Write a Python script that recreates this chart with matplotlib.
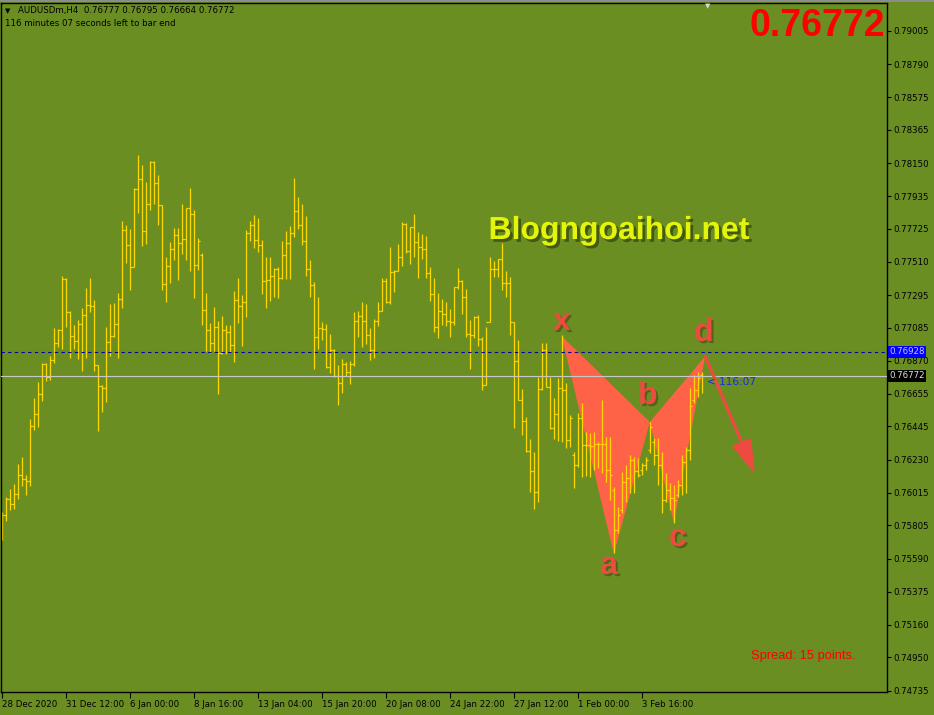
import numpy as np
import matplotlib.pyplot as plt
import matplotlib.patheffects as pe
from matplotlib.patches import Rectangle
from matplotlib.transforms import blended_transform_factory

# -----------------------------
# DATA (AUDUSDm H4, prices in points = 1e-5)
# -----------------------------
open_pts = [
    75775, 75872, 75976, 75943, 76008, 76131, 76105, 76092, 76448, 76526,
    76655, 76850, 76765, 76875, 76986, 77070, 77400, 77186, 77031, 76998,
    77108, 77167, 77231, 77225, 76843, 76707, 76694, 76992, 77031, 77108,
    77270, 77717, 77620, 77477, 77982, 78047, 77710, 77885, 78157, 78021,
    77879, 77367, 77484, 77594, 77685, 77633, 77659, 77859, 77821, 77490,
    77555, 77199, 77070, 76986, 77089, 76921, 77070, 77057, 76973, 77264,
    77225, 77251, 77698, 77749, 77652, 77620, 77387, 77393, 77419, 77464,
    77406, 77555, 77633, 77698, 77840, 77749, 77646, 77464, 77361, 77024,
    77083, 77076, 76830, 76940, 76772, 76727, 76850, 76798, 76850, 77128,
    77160, 77128, 77037, 76940, 77128, 77193, 77387, 77251, 77445, 77452,
    77542, 77756, 77581, 77736, 77639, 77607, 77594, 77439, 77303, 77089,
    77193, 77173, 77128, 77121, 77348, 77387, 77283, 77044, 77037, 77154,
    77011, 76714, 77121, 77464, 77464, 77529, 77374, 77374, 77121, 76869,
    76617, 76480, 76286, 76157, 76021, 76688, 76940, 76701, 76435, 76526,
    76694, 76681, 76358, 76260, 76196, 76500, 76326, 76326, 76319, 76332,
    76332, 76332, 76163, 76034, 75775, 75905, 76086, 76112, 76228, 76157,
    76163, 76196, 76293, 76345, 76261, 76196, 75969, 76034, 75982, 76002,
    76066, 76216, 76293, 76617, 76681, 76777,
]
high_pts = [
    75892, 75989, 76040, 76073, 76202, 76248, 76131, 76494, 76629, 76733,
    76856, 76856, 76901, 77083, 77076, 77419, 77406, 77193, 77102, 77134,
    77212, 77342, 77406, 77264, 76843, 76714, 77089, 77238, 77244, 77309,
    77775, 77749, 77723, 77989, 78202, 78138, 78028, 78164, 78164, 78073,
    77879, 77542, 77639, 77730, 77730, 77885, 77859, 77989, 77846, 77665,
    77568, 77309, 77115, 77219, 77128, 77160, 77102, 77102, 77322, 77406,
    77296, 77717, 77775, 77814, 77795, 77652, 77542, 77542, 77471, 77477,
    77646, 77710, 77743, 78053, 77931, 77885, 77808, 77523, 77380, 77283,
    77121, 77108, 77044, 76947, 76843, 76882, 76863, 76869, 77186, 77193,
    77251, 77238, 77083, 77141, 77251, 77406, 77406, 77607, 77458, 77626,
    77769, 77762, 77736, 77821, 77704, 77691, 77678, 77477, 77406, 77309,
    77270, 77251, 77206, 77348, 77471, 77393, 77335, 77134, 77160, 77167,
    77024, 77089, 77542, 77516, 77529, 77633, 77452, 77413, 77121, 77005,
    76688, 76506, 76364, 76280, 76765, 76986, 76986, 76765, 76629, 76759,
    77037, 76727, 76519, 76280, 76532, 76597, 76409, 76403, 76409, 76345,
    76617, 76377, 76377, 76053, 75924, 76150, 76196, 76261, 76248, 76241,
    76209, 76248, 76474, 76370, 76370, 76280, 76144, 76079, 76066, 76099,
    76261, 76312, 76694, 76778, 76798, 76795,
]
low_pts = [
    75710, 75833, 75905, 75911, 75976, 76060, 76002, 76060, 76422, 76442,
    76610, 76740, 76746, 76856, 76960, 76947, 77089, 76888, 76947, 76882,
    76804, 76888, 77186, 76804, 76416, 76539, 76604, 76901, 77024, 76888,
    77212, 77503, 77329, 77477, 77827, 77613, 77626, 77846, 77885, 77749,
    77329, 77251, 77374, 77523, 77393, 77562, 77523, 77452, 77277, 77458,
    77102, 76934, 76921, 76934, 76655, 76914, 76914, 76927, 76863, 77115,
    76966, 77154, 77646, 77600, 77575, 77303, 77212, 77257, 77283, 77277,
    77400, 77400, 77400, 77672, 77723, 77620, 77419, 77283, 76817, 76947,
    77005, 76824, 76791, 76765, 76584, 76662, 76772, 76720, 76837, 77024,
    76960, 76979, 76875, 76888, 77096, 77193, 77244, 77240, 77316, 77452,
    77484, 77568, 77497, 77542, 77406, 77529, 77406, 77257, 77057, 77018,
    77102, 77096, 77024, 77102, 77335, 77173, 77024, 76817, 77018, 76966,
    76681, 76714, 77121, 77413, 77413, 77329, 77283, 77037, 76435, 76617,
    76390, 76280, 76021, 75911, 75956, 76681, 76701, 76429, 76364, 76351,
    76345, 76306, 76312, 76047, 76183, 76118, 76125, 76118, 76163, 76176,
    76144, 76086, 75969, 75626, 75756, 75885, 75956, 76014, 76014, 76118,
    76131, 76163, 76274, 76196, 76066, 75885, 75956, 75905, 75820, 75989,
    76002, 76014, 76228, 76597, 76636, 76664,
]
close_pts = [
    75872, 75976, 75943, 76008, 76131, 76105, 76092, 76448, 76526, 76655,
    76850, 76765, 76875, 76986, 77070, 77400, 77186, 77031, 76998, 77108,
    77167, 77231, 77225, 76843, 76707, 76694, 76992, 77031, 77108, 77270,
    77717, 77620, 77477, 77982, 78047, 77710, 77885, 78157, 78021, 77879,
    77367, 77484, 77594, 77685, 77633, 77659, 77859, 77821, 77490, 77646,
    77199, 77070, 76986, 77089, 76921, 77070, 77057, 76973, 77264, 77225,
    77251, 77698, 77749, 77652, 77620, 77387, 77393, 77419, 77464, 77406,
    77555, 77633, 77698, 77840, 77749, 77646, 77464, 77361, 77024, 77083,
    77076, 76830, 76940, 76772, 76727, 76850, 76798, 76850, 77128, 77160,
    77128, 77037, 76940, 77128, 77193, 77387, 77251, 77445, 77452, 77542,
    77756, 77581, 77736, 77639, 77607, 77594, 77439, 77303, 77089, 77193,
    77173, 77128, 77121, 77348, 77387, 77283, 77044, 77037, 77154, 77011,
    76714, 77121, 77464, 77464, 77529, 77374, 77374, 77121, 76869, 76617,
    76480, 76286, 76157, 76021, 76688, 76940, 76701, 76435, 76526, 76694,
    76681, 76358, 76500, 76196, 76500, 76326, 76326, 76319, 76332, 76332,
    76332, 76163, 76131, 75775, 75872, 76086, 76112, 76228, 76157, 76131,
    76196, 76228, 76442, 76261, 76196, 75969, 76034, 75982, 75969, 76066,
    76216, 76293, 76578, 76681, 76759, 76772,
]

# harmonic pattern points (bar index, price)
pattern_names = ["x", "a", "b", "c", "d"]
pattern_bars = [139.85, 152.9, 161.9, 167.9, 175.7]
pattern_prices = [0.77030, 0.75620, 0.76474, 0.75822, 0.76897]

x_tick_bars = [0, 16, 32, 48, 64, 80, 96, 112, 128, 144, 160]
x_tick_labels = ["28 Dec 2020", "31 Dec 12:00", "6 Jan 00:00", "8 Jan 16:00",
                 "13 Jan 04:00", "15 Jan 20:00", "20 Jan 08:00", "24 Jan 22:00",
                 "27 Jan 12:00", "1 Feb 00:00", "3 Feb 16:00"]
y_ticks = [0.79005, 0.78790, 0.78575, 0.78365, 0.78150, 0.77935, 0.77725,
           0.77510, 0.77295, 0.77085, 0.76870, 0.76655, 0.76445, 0.76230,
           0.76015, 0.75805, 0.75590, 0.75375, 0.75160, 0.74950, 0.74735]

BID = 0.76772
ASK_LINE = 0.76928

# -----------------------------
# STYLE
# -----------------------------
BG = "#6B8E23"
BAR = "#FFD700"
PATTERN = "#FF6347"
LETTER = "#EE4A3F"

plt.rcParams["font.family"] = ["DejaVu Sans"]

opens = np.array(open_pts) / 1e5
highs = np.array(high_pts) / 1e5
lows = np.array(low_pts) / 1e5
closes = np.array(close_pts) / 1e5
idx = np.arange(len(opens))

fig = plt.figure(figsize=(9.34, 7.15), dpi=100)
fig.patch.set_facecolor(BG)
ax = fig.add_axes([1 / 934, 23 / 715, 886 / 934, 689 / 715])
ax.set_facecolor(BG)
for s in ax.spines.values():
    s.set_color("black")
    s.set_linewidth(1.0)

# harmonic pattern triangles (behind bars)
px, py = pattern_bars, pattern_prices
ax.fill(px[0:3], py[0:3], color=PATTERN, lw=0, zorder=1)
ax.fill(px[2:5], py[2:5], color=PATTERN, lw=0, zorder=1)

# OHLC bars
ax.vlines(idx, lows, highs, color=BAR, lw=0.9, zorder=2)
ax.hlines(opens, idx - 0.5, idx, color=BAR, lw=0.9, zorder=2)
ax.hlines(closes, idx, idx + 0.5, color=BAR, lw=0.9, zorder=2)

# price lines
ax.axhline(ASK_LINE, color="#0000A8", lw=0.8, ls=(0, (3, 3)), zorder=3)
ax.axhline(BID, color="#C8C8C8", lw=0.8, zorder=3)

ax.set_xlim(-0.33, 221.2)
ax.set_ylim(0.74726, 0.79186)

# axes ticks
ax.yaxis.tick_right()
ax.set_yticks(y_ticks)
ax.set_yticklabels([f"{v:.5f}" for v in y_ticks])
ax.tick_params(axis="y", direction="out", length=3, width=0.8, pad=1.5,
               labelsize=6.2, colors="black")
ax.set_xticks(x_tick_bars)
ax.set_xticklabels(x_tick_labels)
ax.tick_params(axis="x", direction="out", length=4, width=0.8, pad=2,
               labelsize=6.2, colors="black")
for lbl in ax.get_xticklabels():
    lbl.set_ha("left")

# highlighted price labels on the right scale
trans = blended_transform_factory(ax.transAxes, ax.transData)
ax.text(1.0025, ASK_LINE, f"{ASK_LINE:.5f}", transform=trans, fontsize=6.2,
        color="#C8C8FF", va="center", ha="left", zorder=5,
        bbox=dict(facecolor="#0000FF", edgecolor="none", pad=1.2))
ax.text(1.0025, BID, f"{BID:.5f}", transform=trans, fontsize=6.2,
        color="#E0E0E0", va="center", ha="left", zorder=5,
        bbox=dict(facecolor="black", edgecolor="none", pad=1.2))

# pattern letters
shadow = [pe.withSimplePatchShadow(offset=(1.5, -1.5), shadow_rgbFace="#3a3a10", alpha=0.5)]
letter_pos = [(139.9, 0.77121), (151.7, 0.75542), (161.4, 0.76642),
              (168.9, 0.75723), (175.4, 0.77050)]
for name, (lx, ly) in zip(pattern_names, letter_pos):
    ax.text(lx, ly, name, fontsize=23, fontweight="bold", color=LETTER,
            family="Liberation Sans", ha="center", va="center", zorder=6,
            path_effects=shadow)

# arrow from d
ax.annotate("", xy=(188.2, 0.76137), xytext=(175.8, 0.76897),
            arrowprops=dict(arrowstyle="-|>,head_length=1.0,head_width=0.3",
                            color=LETTER, lw=2.3, mutation_scale=20,
                            shrinkA=0, shrinkB=0), zorder=6)

# watermark
ax.text(154.2, 0.77710, "Blogngoaihoi.net", fontsize=23, fontweight="bold",
        color="#E4F50C", family="Liberation Sans", ha="center", va="center",
        zorder=6,
        path_effects=[pe.withSimplePatchShadow(offset=(2, -2),
                                               shadow_rgbFace="#2a3508", alpha=0.6)])

# bar timer and big price
ax.text(176.3, BID - 0.00004, "< 116:07", fontsize=7.6, color="#1030E0",
        ha="left", va="top", zorder=6)
ax.text(0.9977, 0.9666, "0.76772", transform=ax.transAxes, fontsize=27,
        fontweight="bold", color="#FF0000", family="Liberation Sans",
        ha="right", va="center", zorder=6)
ax.text(0.8465, 0.0522, "Spread: 15 points.", transform=ax.transAxes,
        fontsize=9.3, color="#FF0000", family="Liberation Sans",
        ha="left", va="center", zorder=6)

# header
fig.text(5 / 934, 1 - 11 / 715, "\u25BC", fontsize=5, color="black",
         ha="left", va="center")
fig.text(18 / 934, 1 - 11 / 715, "AUDUSDm,H4  0.76777 0.76795 0.76664 0.76772",
         fontsize=6.2, color="black", ha="left", va="center")
fig.text(5 / 934, 1 - 24 / 715, "116 minutes 07 seconds left to bar end",
         fontsize=6.2, color="black", ha="left", va="center")
fig.text(708 / 934, 1 - 6 / 715, "\u25BC", fontsize=5, color="#D8D8D8",
         ha="center", va="center")
fig.add_artist(Rectangle((0, 1 - 2 / 715), 1, 2 / 715, transform=fig.transFigure,
                         facecolor="#8C8C8C", edgecolor="none"))

fig.savefig("out.png", dpi=100, facecolor=BG)
